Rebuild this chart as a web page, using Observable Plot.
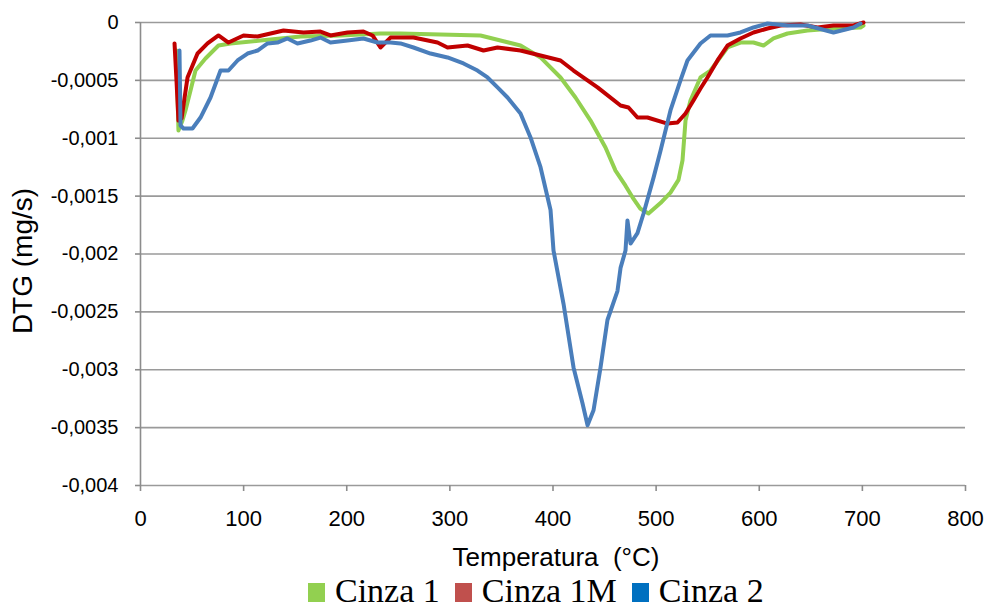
<!DOCTYPE html>
<html>
<head>
<meta charset="utf-8">
<script src="https://cdn.jsdelivr.net/npm/d3@7"></script>
<script src="https://cdn.jsdelivr.net/npm/@observablehq/plot@0.6"></script>
<style>
  html, body { margin: 0; padding: 0; background: #fff; }
  #chart { width: 990px; height: 572px; }
  #legend { height: 38px; line-height: 38px; font-family: "Liberation Serif", "Times New Roman", serif; font-size: 34px; color: #000; padding-left: 308px; white-space: nowrap; }
  #legend .sw { display: inline-block; width: 17px; height: 19px; margin-right: 10px; vertical-align: baseline; }
  #legend .item { margin-right: 15px; }
</style>
</head>
<body>
<div id="chart"></div>
<div id="legend"></div>
<script>
// Series names and colours
const seriesNames = ["Cinza 1", "Cinza 1M", "Cinza 2"];
const lineColors = ["#92d050", "#c00000", "#4a7ebb"];
const legendColors = ["#92d050", "#c0504d", "#0070c0"];

// Axis ticks
const xTicks = [0, 100, 200, 300, 400, 500, 600, 700, 800];
const yTicks = [0, -0.0005, -0.001, -0.0015, -0.002, -0.0025, -0.003, -0.0035, -0.004];

// Cinza 1 (green)
const cinza1T = [34.9, 36.8, 40.7, 43.6, 48.5, 53.3, 63.0, 75.6, 87.3, 116.4, 155.2, 194, 232.7, 252.1, 290.9, 329.7, 349.1, 368.5, 387.9, 407.3, 421.8, 436.4, 450.9, 460.6, 470.3, 477.1, 484.8, 492.6, 504.2, 513.9, 521.7, 525.6, 528.5, 533.3, 543, 552.7, 569.2, 581.8, 594.4, 604.1, 613.8, 627.4, 646.8, 672, 698.2, 701.1];
const cinza1V = [-0.000242, -0.000933, -0.000847, -0.00076, -0.000587, -0.000415, -0.000311, -0.000199, -0.000181, -0.000156, -0.000121, -0.000112, -0.000095, -0.000095, -0.000104, -0.000112, -0.000156, -0.000199, -0.000302, -0.000475, -0.000648, -0.000847, -0.00108, -0.00128, -0.00141, -0.00151, -0.00161, -0.00165, -0.00156, -0.00147, -0.00136, -0.00119, -0.000847, -0.000674, -0.000475, -0.000415, -0.000216, -0.000173, -0.000173, -0.000199, -0.000138, -0.000095, -0.000069, -0.000052, -0.000043, -0.000026];

// Cinza 1M (red)
const cinza1MT = [33, 34.9, 36.8, 39.8, 45.6, 55.3, 65, 75.6, 85.3, 99.9, 113.5, 126.1, 138.7, 158.1, 174.5, 184.2, 200.7, 216.2, 225, 232.7, 242.4, 264.7, 288, 297.7, 317.1, 332.6, 346.2, 368.5, 387.9, 407.3, 419.9, 443.2, 465.5, 473.2, 481.9, 491.6, 511, 520.7, 528.5, 536.2, 543, 549.8, 559.5, 569.2, 581.8, 594.4, 608, 620.6, 640, 656.5, 672, 691.4, 701.1];
const cinza1MV = [-0.000181, -0.000501, -0.000847, -0.000829, -0.000475, -0.000268, -0.000181, -0.000112, -0.000173, -0.000112, -0.000121, -0.000095, -0.000069, -0.000086, -0.000078, -0.000112, -0.000086, -0.000078, -0.000112, -0.000216, -0.00013, -0.00013, -0.000173, -0.000216, -0.000199, -0.000242, -0.000216, -0.000242, -0.000285, -0.000328, -0.000415, -0.000561, -0.000717, -0.000734, -0.000821, -0.000821, -0.000873, -0.000864, -0.000786, -0.000674, -0.00057, -0.000475, -0.000328, -0.000199, -0.000138, -0.000086, -0.000052, -0.000026, -0.000017, -0.000043, -0.000026, -0.000026, 0];

// Cinza 2 (blue)
const cinza2T = [37.8, 38.8, 41.7, 50.4, 58.2, 67.9, 77.6, 85.3, 94.1, 103.8, 113.5, 123.2, 132.8, 142.5, 152.2, 164.8, 174.5, 184.2, 200.7, 216.2, 229.8, 242.4, 252.1, 264.7, 281.2, 297.7, 313.2, 326.8, 336.5, 346.2, 355.9, 368.5, 378.2, 387.9, 397.6, 400.5, 410.2, 419.9, 428.6, 433.5, 439.3, 446.1, 452.8, 462.5, 465.5, 470.3, 472.2, 475.2, 481.9, 487.8, 497.5, 504.2, 513.9, 523.6, 530.4, 543, 552.7, 569.2, 581.8, 594.4, 608, 627.4, 646.8, 672, 691.4, 698.2];
const cinza2V = [-0.000242, -0.00089, -0.000916, -0.000916, -0.000821, -0.000648, -0.000415, -0.000415, -0.000328, -0.000268, -0.000242, -0.000181, -0.000173, -0.000138, -0.000181, -0.000156, -0.00013, -0.000173, -0.000156, -0.000138, -0.000173, -0.000173, -0.000181, -0.000216, -0.000268, -0.000302, -0.000354, -0.000415, -0.000475, -0.000561, -0.000648, -0.000786, -0.000993, -0.00125, -0.00162, -0.00197, -0.00243, -0.00298, -0.00329, -0.00348, -0.00335, -0.00298, -0.00257, -0.00232, -0.00212, -0.00197, -0.00171, -0.00191, -0.00182, -0.00165, -0.00134, -0.00111, -0.00076, -0.000501, -0.000328, -0.000181, -0.000112, -0.000112, -0.000086, -0.000043, -0.000009, -0.000026, -0.000026, -0.000086, -0.000043, -0.000009];

const seriesT = [cinza1T, cinza1MT, cinza2T];
const seriesV = [cinza1V, cinza1MV, cinza2V];
const data = [];
seriesNames.forEach((name, i) => {
  seriesT[i].forEach((t, j) => data.push({series: name, t, v: seriesV[i][j]}));
});

const fmt = d => d === 0 ? "0" : String(d).replace(".", ",");
const gray = "#9a9a9a";
const axisGray = "#8c8c8c";

const chart = Plot.plot({
  width: 990,
  height: 572,
  marginLeft: 140,
  marginRight: 25,
  marginTop: 22,
  marginBottom: 87,
  style: {fontFamily: "'Liberation Sans', Arial, sans-serif", color: "#000", background: "#fff"},
  x: {domain: [0, 800]},
  y: {domain: [-0.004, 0]},
  color: {domain: seriesNames, range: lineColors},
  marks: [
    Plot.ruleY(yTicks, {stroke: gray, strokeWidth: 1.6}),
    Plot.ruleX([0], {stroke: axisGray, strokeWidth: 1.6}),
    Plot.axisY({ticks: yTicks, tickFormat: fmt, tickSize: 5, tickPadding: 17, stroke: axisGray, strokeWidth: 1.6, strokeOpacity: 1, fontSize: 20, label: null}),
    Plot.axisX({ticks: xTicks, tickFormat: d => String(d), tickSize: 6, tickPadding: 19, stroke: axisGray, strokeWidth: 1.6, strokeOpacity: 1, fontSize: 22, label: null}),
    Plot.line(data, {x: "t", y: "v", z: "series", stroke: "series", strokeWidth: 4, strokeLinejoin: "round", strokeLinecap: "round"}),
    Plot.text(["Temperatura\u00a0\u00a0(°C)"], {frameAnchor: "bottom", dy: 72, dx: 3, fontSize: 26, textAnchor: "middle", lineAnchor: "middle", fill: "#000"}),
    Plot.text(["DTG (mg/s)"], {frameAnchor: "left", dx: -117, dy: 7, rotate: -90, fontSize: 28, textAnchor: "middle", lineAnchor: "middle", fill: "#000"})
  ]
});
document.getElementById("chart").appendChild(chart);

const legend = document.getElementById("legend");
seriesNames.forEach((name, i) => {
  const item = document.createElement("span");
  item.className = "item";
  const sw = document.createElement("span");
  sw.className = "sw";
  sw.style.background = legendColors[i];
  item.appendChild(sw);
  item.appendChild(document.createTextNode(name));
  legend.appendChild(item);
});
</script>
</body>
</html>
